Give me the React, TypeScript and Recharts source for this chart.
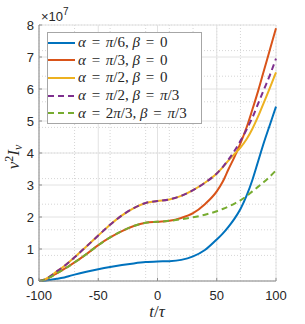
import React from 'react';
import { LineChart, Line, XAxis, YAxis, CartesianGrid } from 'recharts';

// t/tau sample points
const tValues = [-100, -95, -90, -85, -80, -75, -70, -60, -50, -40, -30, -20, -10, 0, 10, 20, 30, 40, 50, 55, 60, 65, 70, 75, 80, 85, 90, 95, 100];

// v^2 I_v in units of 1e7
const alphaPi6Beta0 = [0, 0.01, 0.04, 0.07, 0.1, 0.15, 0.2, 0.29, 0.37, 0.44, 0.5, 0.55, 0.59, 0.61, 0.62, 0.66, 0.77, 0.97, 1.3, 1.48, 1.7, 1.95, 2.25, 2.65, 3.15, 3.75, 4.35, 4.9, 5.45];
const alphaPi3Beta0 = [0, 0.04, 0.13, 0.24, 0.35, 0.46, 0.58, 0.84, 1.12, 1.36, 1.56, 1.72, 1.82, 1.85, 1.88, 1.97, 2.12, 2.4, 2.8, 3.1, 3.5, 3.88, 4.3, 4.78, 5.35, 5.95, 6.6, 7.25, 7.9];
const alphaPi2Beta0 = [0, 0.05, 0.16, 0.3, 0.43, 0.58, 0.74, 1.08, 1.42, 1.76, 2.05, 2.28, 2.44, 2.5, 2.55, 2.66, 2.84, 3.07, 3.36, 3.55, 3.77, 3.97, 4.17, 4.42, 4.75, 5.15, 5.6, 6.05, 6.52];
const alphaPi2BetaPi3 = [0, 0.05, 0.16, 0.3, 0.43, 0.58, 0.74, 1.08, 1.42, 1.76, 2.05, 2.28, 2.44, 2.5, 2.55, 2.66, 2.84, 3.07, 3.36, 3.56, 3.8, 4.07, 4.38, 4.72, 5.1, 5.55, 6.0, 6.45, 6.95];
const alpha2Pi3BetaPi3 = [0, 0.04, 0.13, 0.24, 0.35, 0.46, 0.58, 0.84, 1.12, 1.36, 1.56, 1.72, 1.82, 1.85, 1.88, 1.93, 1.99, 2.07, 2.18, 2.25, 2.33, 2.42, 2.52, 2.65, 2.8, 2.95, 3.1, 3.27, 3.46];

const xTicks = [-100, -50, 0, 50, 100];
const yTicks = [0, 1, 2, 3, 4, 5, 6, 7, 8];

const legendAlpha = ['π/6', 'π/3', 'π/2', 'π/2', '2π/3'];
const legendBeta = ['0', '0', '0', 'π/3', 'π/3'];

const series = [
  { key: 'a', values: alphaPi6Beta0, color: '#0072BD', dash: undefined },
  { key: 'b', values: alphaPi3Beta0, color: '#D95319', dash: undefined },
  { key: 'c', values: alphaPi2Beta0, color: '#EDB120', dash: undefined },
  { key: 'd', values: alphaPi2BetaPi3, color: '#7E2F8E', dash: '6 4' },
  { key: 'e', values: alpha2Pi3BetaPi3, color: '#77AC30', dash: '6 4' },
];

const data = tValues.map((t, i) => {
  const row: Record<string, number> = { t };
  series.forEach((s) => (row[s.key] = s.values[i]));
  return row;
});

// minor grid: every 10 in t, every 0.2 in y
const xMinor = Array.from({ length: 21 }, (_, i) => -100 + i * 10);
const yMinor = Array.from({ length: 41 }, (_, i) => Math.round(i * 2) / 10);

const axisColor = '#8c8c8c';
const textColor = '#262626';
const serif = '"Liberation Serif", "DejaVu Serif", serif';
const sans = '"Liberation Sans", Arial, sans-serif';

const mathText = (s: string) =>
  s.split('').map((ch, i) =>
    /[a-zA-Zα-ω]/.test(ch) ? (
      <i key={i}>{ch}</i>
    ) : ch === '=' ? (
      <span key={i} style={{ padding: '0 2px' }}>=</span>
    ) : (
      <span key={i}>{ch}</span>
    )
  );

const noTick = () => <g />;

export default function App() {
  return (
    <div style={{ position: 'absolute', left: 0, top: 0, width: 305, height: 324, background: '#fff' }}>
      <LineChart width={305} height={324} data={data} margin={{ top: 25, right: 29, bottom: 0, left: 0 }}>
        <CartesianGrid horizontalValues={yMinor} verticalValues={xMinor} stroke="#d6d6d6" strokeDasharray="1 2" />
        <CartesianGrid horizontalValues={yTicks} verticalValues={xTicks} stroke="#e2e2e2" />
        <XAxis
          dataKey="t"
          type="number"
          domain={[-100, 100]}
          ticks={xTicks}
          height={43}
          tickSize={-3}
          tickMargin={13}
          stroke={axisColor}
          tick={{ fill: textColor, fontSize: 13, fontFamily: sans }}
        />
        <XAxis
          xAxisId="top"
          orientation="top"
          type="number"
          domain={[-100, 100]}
          ticks={xTicks}
          height={0}
          tickSize={-3}
          stroke={axisColor}
          tick={noTick}
          allowDataOverflow
        />
        <YAxis
          type="number"
          domain={[0, 8]}
          ticks={yTicks}
          width={39}
          tickSize={-3}
          tickMargin={8}
          stroke={axisColor}
          tick={{ fill: textColor, fontSize: 13, fontFamily: sans }}
        />
        <YAxis
          yAxisId="right"
          orientation="right"
          type="number"
          domain={[0, 8]}
          ticks={yTicks}
          width={0}
          tickSize={-3}
          stroke={axisColor}
          tick={noTick}
          allowDataOverflow
        />
        {series.map((s) => (
          <Line
            key={s.key}
            dataKey={s.key}
            type="monotone"
            stroke={s.color}
            strokeWidth={2}
            strokeDasharray={s.dash}
            dot={false}
            activeDot={false}
            isAnimationActive={false}
          />
        ))}
      </LineChart>

      <div style={{ position: 'absolute', left: 41, top: 10, fontFamily: sans, fontSize: 13, lineHeight: '13px', color: textColor }}>
        ×10<span style={{ position: 'relative', top: -6, fontSize: 10 }}>7</span>
      </div>

      <div
        style={{
          position: 'absolute',
          left: 14,
          top: 157,
          transform: 'translate(-50%, -50%) rotate(-90deg)',
          fontFamily: serif,
          fontSize: 17,
          color: textColor,
          whiteSpace: 'nowrap',
        }}
      >
        <i>v</i>
        <span style={{ fontSize: 12, position: 'relative', top: -6 }}>2</span>
        <i>I</i>
        <i style={{ fontSize: 12, position: 'relative', top: 3 }}>v</i>
      </div>

      <div
        style={{
          position: 'absolute',
          left: 157,
          top: 312,
          transform: 'translate(-50%, -50%)',
          fontFamily: serif,
          fontSize: 17,
          color: textColor,
          whiteSpace: 'nowrap',
        }}
      >
        <i>t</i>/<i>τ</i>
      </div>

      <div
        style={{
          position: 'absolute',
          left: 47,
          top: 32,
          width: 155,
          height: 92,
          boxSizing: 'border-box',
          border: '1px solid #a6a6a6',
          background: '#fff',
          padding: '1px 0 0 0',
          fontFamily: serif,
          fontSize: 15,
          color: textColor,
        }}
      >
        {series.map((s, i) => (
          <div key={s.key} style={{ display: 'flex', alignItems: 'center', height: 17.6 }}>
            <svg width={27} height={6} style={{ marginRight: 3 }}>
              <line x1={0} y1={3} x2={27} y2={3} stroke={s.color} strokeWidth={2} strokeDasharray={s.dash} />
            </svg>
            <span style={{ whiteSpace: 'nowrap' }}>
              {mathText('α = ' + legendAlpha[i] + ', ')}
              {mathText('β = ' + legendBeta[i])}
            </span>
          </div>
        ))}
      </div>
    </div>
  );
}
